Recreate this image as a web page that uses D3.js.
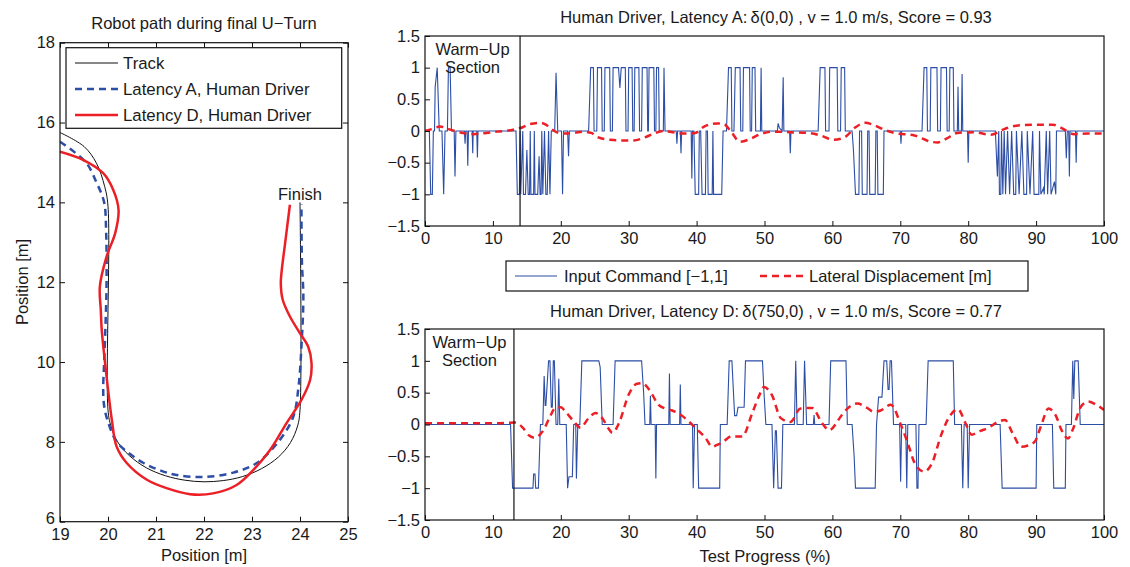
<!DOCTYPE html>
<html>
<head>
<meta charset="utf-8">
<script src="https://cdn.jsdelivr.net/npm/d3@7"></script>
<style>
  body { margin: 0; background: #fff; }
  svg { display: block; font-family: "Liberation Sans", Arial, Helvetica, sans-serif; }
  .tick text { font-size: 16.5px; fill: #1a1a1a; }
</style>
</head>
<body>
<svg id="chart" width="1130" height="567"></svg>
<script>
// ---- left panel: robot path (x, y in m) ----
var trackPath = [[19.0,15.75],[19.5,15.4],[19.76,14.98],[19.93,14.4],[20.0,13.9],[20.0,8.8],[20.06,8.4],[20.2,8.0],[20.45,7.65],[20.8,7.35],[21.2,7.15],[21.6,7.04],[22.0,7.0],[22.4,7.03],[22.8,7.13],[23.2,7.33],[23.55,7.62],[23.8,7.98],[23.95,8.4],[24.0,8.8],[24.0,14.0]];
var pathLatA = [[19.0,15.52],[19.54,15.0],[19.76,14.5],[19.92,14.0],[19.96,13.3],[19.97,12.0],[19.95,11.0],[19.92,10.0],[19.9,9.3],[19.92,8.9],[20.0,8.5],[20.18,8.0],[20.4,7.75],[20.74,7.47],[21.1,7.28],[21.43,7.17],[21.99,7.12],[22.61,7.23],[23.1,7.47],[23.58,8.05],[23.86,8.63],[23.97,9.39],[24.03,10.39],[24.07,11.64],[24.04,12.5],[24.03,13.95]];
var pathLatD = [[19.0,15.27],[19.49,15.06],[19.9,14.73],[20.11,14.31],[20.22,13.81],[20.15,13.23],[19.97,12.64],[19.83,11.89],[19.85,11.3],[19.87,10.8],[19.97,9.64],[20.08,8.55],[20.18,7.88],[20.39,7.47],[20.81,7.05],[21.22,6.84],[21.71,6.69],[22.19,6.71],[22.68,6.92],[23.03,7.3],[23.38,7.8],[23.72,8.47],[24.03,9.05],[24.21,9.55],[24.24,9.97],[24.17,10.39],[24.0,10.72],[23.79,11.14],[23.64,11.56],[23.6,11.97],[23.62,12.3],[23.69,12.98],[23.79,13.94]];
var pathLabels = ["Track", "Latency A, Human Driver", "Latency D, Human Driver"];
var posXTicks = [19, 20, 21, 22, 23, 24, 25];
var posYTicks = [6, 8, 10, 12, 14, 16, 18];

// ---- right panels: test progress (%) vs command / displacement ----
var inputA = [[0,0],[0.64,0],[0.84,-1],[1.08,-1],[1.23,0],[1.4,0],[1.5,0.7],[1.8,1],[2.1,0],[2.5,0],[2.75,-1],[2.95,0],[3.3,0],[3.45,1],[3.7,1],[3.9,0],[4.3,0],[4.42,-0.72],[4.55,0],
  [5.8,0],[5.9,-0.2],[6.0,0],[6.2,0],[6.3,-0.55],[6.4,0],[6.95,0],[7.03,-0.35],[7.1,0],[7.62,0],[7.72,-0.42],[7.8,0],
  [13.4,0],[13.6,-1],[13.9,-1],[14.0,0],[14.1,-1],[14.4,0],[14.5,-1],[14.8,-1],[15.0,-0.3],[15.2,-1],[15.4,-1],[15.5,0],[15.6,-1],[16.0,-1],[16.1,0],[16.2,-1],[16.6,-1],[16.8,-0.4],[16.95,-1],[17.1,-1],[17.2,0],[17.35,-1],[17.6,0],[17.8,-1],[18.0,-1],[18.2,0],[18.4,-1],[18.6,0],
  [19.1,0],[19.3,0.92],[19.55,0],[20.1,0],[20.26,-1],[20.4,0],[21.0,0],[21.14,-0.4],[21.25,0],
  [24.1,0],[24.4,1],[24.8,1],[24.9,0],[25.3,0],[25.4,1],[26.0,1],[26.1,0],[26.4,0],[26.5,1],[27.2,1],[27.3,0],[27.6,0],[27.7,1],[28.5,1],[28.7,0.68],[28.9,1],[29.5,1],[29.6,0],[29.9,0],[30.0,1],[30.5,1],[30.6,0],[30.8,0],[30.9,1],[31.5,1],[31.6,0],[31.9,0],[32.0,1],[32.7,1],[32.8,0],[32.9,0],[33.0,1],[33.7,1],[33.8,0],[34.0,0],[34.1,1],[34.4,1],[34.5,0],[35.1,0],[35.2,1],[35.35,0],
  [37.0,0],[37.1,-0.2],[37.2,0],[37.6,0],[37.7,-0.35],[37.8,0],
  [39.2,0],[39.3,-0.75],[39.4,0],[39.6,0],[39.8,-1],[40.3,-1],[40.4,0],[40.6,0],[40.8,-1],[41.3,-1],[41.4,0],[41.6,0],[41.7,-1],[42.3,-1],[42.4,0],[42.5,-1],[43.7,-1],[43.9,0],
  [44.4,0],[44.7,1],[45.1,1],[45.2,0],[45.5,0],[45.7,1],[46.4,1],[46.5,0],[46.8,0],[46.9,1],[47.8,1],[47.9,0],[48.1,0],[48.2,1],[48.6,1],[48.7,0],[49.4,0],[49.5,1],[49.6,0],
  [51.9,0],[52.0,0.12],[52.2,0.05],[52.6,0],[52.75,0.85],[52.85,0],[53.7,0],[53.8,-0.35],[53.9,0],
  [57.9,0],[58.2,1],[58.9,1],[59.0,0],[59.5,0],[59.6,1],[60.7,1],[60.8,0],[61.2,0],[61.3,1],[61.8,1],[61.9,0],
  [62.9,0],[63.1,-0.3],[63.4,-1],[63.9,-1],[64.0,0],[64.3,0],[64.4,-1],[65.1,-1],[65.2,0],[65.4,0],[65.5,-1],[66.3,-1],[66.4,0],[66.6,0],[66.7,-1],[67.5,-1],[67.6,0],
  [70.0,0],[70.1,-0.2],[70.2,0],
  [73.2,0],[73.5,1],[73.9,1],[74.0,0],[74.4,0],[74.5,1],[75.4,1],[75.5,0],[75.9,0],[76.0,1],[76.8,1],[76.9,0],[77.2,0],[77.3,1],[77.8,1],[77.9,0],[78.4,0],[78.5,0.7],[78.6,0],[79.0,0],[79.1,0.9],[79.2,0],
  [79.9,0],[80.0,-0.5],[80.1,0],
  [84.0,0],[84.3,-0.72],[84.5,0],[84.6,-1],[84.8,-1],[84.9,0],[85.1,-1],[85.3,0],[85.5,-1],[85.8,0],[86.1,-1],[86.4,0],[86.7,-1],[87.0,-1],[87.1,0],[87.5,-1],[87.9,0],[88.2,-1],[88.6,-1],[88.7,0],[89.1,-1],[89.5,0],[89.7,-1],[90.4,-1],[90.5,0],[90.7,-1],[91.1,-0.9],[91.2,-1],[91.5,0],[91.7,-1],[92.0,0],[92.2,-1],[92.7,-0.8],[92.9,-1],[93.0,0],
  [94.3,0],[94.45,-0.43],[94.6,0],[94.8,0],[94.9,-0.72],[95.0,0],[95.8,0],[95.9,-0.5],[96.0,0],[100,0]];

var lateralA = [[0,0],[1,0.03],[2.2,0.07],[3.5,0.03],[4.7,-0.01],[6,-0.04],[7.1,-0.05],[9,-0.03],[10.6,-0.01],[13,0.02],[14.4,0.06],[15.5,0.11],[17.0,0.13],[17.8,0.1],[18.6,0.03],[20.2,-0.04],[22,-0.03],[23.3,-0.01],[24.5,-0.03],[25.3,-0.09],[27.3,-0.14],[29,-0.15],[30.7,-0.15],[32.4,-0.1],[33.5,-0.05],[35.2,0],[36.5,-0.02],[38.1,-0.04],[39.8,-0.03],[41.1,0.07],[43.0,0.12],[44.0,0.11],[45.0,0.0],[46.4,-0.17],[48,-0.12],[49.4,-0.05],[51.4,-0.01],[53.8,-0.02],[56.3,-0.03],[58.2,-0.07],[60.2,-0.14],[61.8,-0.1],[63.3,0.05],[64.8,0.13],[66.2,0.09],[67.6,0.02],[69.1,-0.03],[72.1,-0.07],[74.5,-0.17],[75.5,-0.18],[76.8,-0.12],[78.4,-0.03],[80.9,-0.02],[83.3,-0.06],[85.3,0.03],[86.8,0.08],[89.7,0.1],[92.5,0.1],[93.7,0.05],[95.6,-0.05],[97.6,-0.04],[100,-0.04]];

var inputD = [[0,0],[12.6,0],[12.9,-1],[15.9,-1],[16.0,-0.78],[16.2,-0.78],[16.3,-1],[16.7,-1],[17.0,0],[17.35,0],[17.55,0.76],[17.7,0.3],[17.8,0.3],[18.2,1],[18.4,1],[18.6,0.27],[18.75,0.27],[18.9,1],[19.05,1],[19.3,0],[19.55,0],[19.7,0.72],[19.85,0],[20.8,0],[20.9,-0.5],[21.0,-1],[21.2,-0.82],[21.7,-0.82],[21.9,0],[22.2,0],[22.3,-0.85],[22.5,0],[22.8,0],[23.1,1],[25.6,1],[25.8,0.9],[26.1,0],[27.7,0],[28.0,1],[31.9,1],[32.2,0.5],[32.4,0],
  [33.1,0],[33.2,0.45],[33.3,0],[33.9,0],[34.0,-0.85],[34.1,0],[35.9,0],[36.0,0.8],[36.1,0],[37.5,0],[37.6,0.63],[37.7,0],[39.4,0],[39.5,-1],[39.7,0],[40.1,0],[40.3,-1],[43.4,-1],[43.5,0],
  [44.5,0],[44.8,1],[45.2,1],[45.6,0.14],[45.9,0.14],[46.1,0.27],[47.0,0.27],[47.2,1],[49.7,1],[49.9,0.55],[50.2,0],[51.1,0],[51.35,-1],[51.6,-0.1],[51.75,-0.1],[52.0,-1],[52.5,-1],[52.7,0],
  [54.4,0],[54.6,1],[54.8,0],[55.7,0],[55.9,1],[56.2,0],[57.2,0],[57.3,0.15],[57.4,0],[59.5,0],[59.75,1],[62.0,1],[62.2,0],[62.9,0],[63.2,-0.5],[63.4,-1],[66.3,-1],[66.5,0],[66.8,0.43],[67.3,0.43],[67.6,1],[68.0,1],[68.2,0.55],[68.35,0.55],[68.5,1],[68.7,1],[69.0,0],
  [69.9,0],[70.05,-0.9],[70.2,0],[70.8,0],[70.95,-1],[71.1,0],[72.3,0],[72.45,-1],[72.6,-1],[72.75,0],[73.8,0],[74.1,1],[77.8,1],[78.0,0],[79.0,0],[79.2,-1],[79.4,0],[79.85,0],[80.0,-1],[80.2,0],
  [84.7,0],[85.0,-1],[90.0,-1],[90.1,0],[92.4,0],[92.6,-1],[94.3,-1],[94.4,0],[95.2,0],[95.4,1],[95.55,0.4],[95.7,1],[96.2,1],[96.5,0],[100,0]];

var lateralD = [[0,0.02],[5,0.02],[10,0.02],[13.3,0.03],[14.4,-0.05],[15.3,-0.17],[16.1,-0.21],[17.0,-0.15],[17.5,-0.08],[18.4,0.12],[19.2,0.26],[20.0,0.27],[20.7,0.2],[21.9,0.05],[22.9,-0.05],[24.1,0.1],[25.1,0.18],[26.1,0.1],[27.0,-0.06],[27.6,-0.13],[28.6,0.03],[30.0,0.47],[31.2,0.64],[32.0,0.65],[33.0,0.55],[34.4,0.31],[35.4,0.25],[36.4,0.22],[37.8,0.14],[39.8,-0.05],[41.3,-0.21],[42.3,-0.35],[43.0,-0.32],[43.8,-0.28],[45.2,-0.18],[46.0,-0.19],[46.7,-0.19],[48.2,0.18],[49.2,0.45],[49.9,0.59],[51.1,0.46],[52.4,0.1],[53.8,0.04],[55.3,0.25],[57.0,0.26],[58.5,0.02],[59.5,-0.09],[61.4,0.15],[62.2,0.25],[63.7,0.33],[65.1,0.26],[66.1,0.2],[67.1,0.22],[68.6,0.31],[70.1,-0.01],[71.5,-0.42],[72.0,-0.58],[73.5,-0.74],[74.7,-0.6],[76.0,-0.17],[77.4,0.15],[78.5,0.24],[79.6,0.02],[80.5,-0.16],[81.8,-0.1],[83.0,-0.05],[84.2,0.03],[85.4,0.07],[86.6,-0.15],[87.8,-0.35],[88.8,-0.33],[89.8,-0.27],[90.8,0.0],[91.8,0.25],[92.9,0.14],[93.8,-0.1],[94.7,-0.22],[95.4,-0.08],[96.6,0.28],[97.7,0.36],[99,0.3],[100,0.23]];

var progressTicks = [0, 10, 20, 30, 40, 50, 60, 70, 80, 90, 100];
var valueTicks = [-1.5, -1, -0.5, 0, 0.5, 1, 1.5];
var warmUpEndA = 14.0, warmUpEndD = 13.1;
var titleA = "Human Driver, Latency A:\u2009\u03b4(0,0) , v = 1.0 m/s, Score = 0.93";
var titleD = "Human Driver, Latency D:\u2009\u03b4(750,0) , v = 1.0 m/s, Score = 0.77";
var seriesLabels = ["Input Command [\u22121,1]", "Lateral Displacement [m]"];

var BLUE = "#2d4ea6", RED = "#ec1f26", INK = "#1a1a1a";
var FS = 16.5;
var fmt = d3.format("~g");
var svg = d3.select("#chart");

function frame(g, x, y, id) {
	g.append("clipPath").attr("id", id)
		.append("rect")
		.attr("x", x.range()[0]).attr("y", y.range()[1])
		.attr("width", x.range()[1] - x.range()[0])
		.attr("height", y.range()[0] - y.range()[1]);
}

function box(g, x, y) {
	g.append("rect")
		.attr("x", x.range()[0]).attr("y", y.range()[1])
		.attr("width", x.range()[1] - x.range()[0])
		.attr("height", y.range()[0] - y.range()[1])
		.attr("fill", "none").attr("stroke", "#111").attr("stroke-width", 1.2);
}

function axes(g, x, y, xt, yt, mirror, xpad) {
	var ax = g.append("g").attr("transform", "translate(0," + y.range()[0] + ")")
		.call(d3.axisBottom(x).tickValues(xt).tickFormat(fmt).tickSizeInner(-5).tickSizeOuter(0).tickPadding(xpad));
	var ay = g.append("g").attr("transform", "translate(" + x.range()[0] + ",0)")
		.call(d3.axisLeft(y).tickValues(yt).tickFormat(fmt).tickSizeInner(-5).tickSizeOuter(0).tickPadding(5));
	[ax, ay].forEach(function (a) {
		a.select(".domain").remove();
		a.selectAll(".tick line").attr("stroke", "#111");
	});
	if (mirror) {
		var at = g.append("g").attr("transform", "translate(0," + y.range()[1] + ")")
			.call(d3.axisTop(x).tickValues(xt).tickSizeInner(-5).tickSizeOuter(0).tickFormat(""));
		var ar = g.append("g").attr("transform", "translate(" + x.range()[1] + ",0)")
			.call(d3.axisRight(y).tickValues(yt).tickSizeInner(-5).tickSizeOuter(0).tickFormat(""));
		[at, ar].forEach(function (a) {
			a.select(".domain").remove();
			a.selectAll(".tick line").attr("stroke", "#111");
		});
	}
	return ay;
}

// ---------- left panel ----------
var xL = d3.scaleLinear().domain([19, 25]).range([60, 348]);
var yL = d3.scaleLinear().domain([6, 18]).range([521.7, 42.7]);
var gL = svg.append("g");
frame(gL, xL, yL, "clipL");

var pathLine = d3.line().x(d => xL(d[0])).y(d => yL(d[1])).curve(d3.curveCatmullRom.alpha(0.5));
var plotL = gL.append("g").attr("clip-path", "url(#clipL)");
plotL.append("path").datum(trackPath).attr("d", pathLine)
	.attr("fill", "none").attr("stroke", "#111").attr("stroke-width", 1);
plotL.append("path").datum(pathLatA).attr("d", pathLine)
	.attr("fill", "none").attr("stroke", BLUE).attr("stroke-width", 2.5).attr("stroke-dasharray", "7,5");
plotL.append("path").datum(pathLatD).attr("d", pathLine)
	.attr("fill", "none").attr("stroke", RED).attr("stroke-width", 2.5);

gL.append("text").attr("x", xL(24)).attr("y", yL(14.06))
	.attr("text-anchor", "middle").attr("font-size", FS).attr("fill", INK).text("Finish");

var ayL = axes(gL, xL, yL, posXTicks, posYTicks, true, 7);
// lowest y label sits right on the corner; nudge it up a touch so it clears "19"
ayL.selectAll(".tick text").filter(d => d === 6).attr("dy", "0.12em");
box(gL, xL, yL);

// legend
var legL = gL.append("g");
legL.append("rect").attr("x", 66).attr("y", 47.7).attr("width", 275.7).attr("height", 80.6)
	.attr("fill", "#fff").attr("stroke", "#111").attr("stroke-width", 1.2);
var legStyles = [
	{ c: "#111", w: 1, d: null },
	{ c: BLUE, w: 2.5, d: "7,5" },
	{ c: RED, w: 2.5, d: null }
];
pathLabels.forEach(function (lab, i) {
	var yy = 63 + i * 26;
	legL.append("line").attr("x1", 75).attr("x2", 118).attr("y1", yy).attr("y2", yy)
		.attr("stroke", legStyles[i].c).attr("stroke-width", legStyles[i].w)
		.attr("stroke-dasharray", legStyles[i].d);
	legL.append("text").attr("x", 123).attr("y", yy + 6).attr("font-size", 16.8).attr("fill", INK).text(lab);
});

gL.append("text").attr("x", 204).attr("y", 29).attr("text-anchor", "middle")
	.attr("font-size", FS).attr("fill", INK).text("Robot path during final U\u2212Turn");
gL.append("text").attr("x", 204).attr("y", 561).attr("text-anchor", "middle")
	.attr("font-size", FS).attr("fill", INK).text("Position [m]");
gL.append("text").attr("transform", "translate(28,282) rotate(-90)").attr("text-anchor", "middle")
	.attr("font-size", FS).attr("fill", INK).text("Position [m]");

// ---------- right panels ----------
function series(top, bottom, input, lateral, warm, title, titleY, id) {
	var x = d3.scaleLinear().domain([0, 100]).range([425, 1104]);
	var y = d3.scaleLinear().domain([-1.5, 1.5]).range([bottom, top]);
	var g = svg.append("g");
	frame(g, x, y, id);
	var plot = g.append("g").attr("clip-path", "url(#" + id + ")");

	plot.append("path").datum(input)
		.attr("d", d3.line().x(d => x(d[0])).y(d => y(d[1])))
		.attr("fill", "none").attr("stroke", BLUE).attr("stroke-width", 1.1);
	plot.append("path").datum(lateral)
		.attr("d", d3.line().x(d => x(d[0])).y(d => y(d[1])).curve(d3.curveMonotoneX))
		.attr("fill", "none").attr("stroke", RED).attr("stroke-width", 2.5).attr("stroke-dasharray", "7,5");

	g.append("line").attr("x1", x(warm)).attr("x2", x(warm)).attr("y1", y(-1.5)).attr("y2", y(1.5))
		.attr("stroke", "#111").attr("stroke-width", 1.2);
	g.append("text").attr("x", x(warm / 2)).attr("y", y(1.5) + 19).attr("text-anchor", "middle")
		.attr("font-size", FS).attr("fill", INK).text("Warm\u2212Up");
	g.append("text").attr("x", x(warm / 2)).attr("y", y(1.5) + 37).attr("text-anchor", "middle")
		.attr("font-size", FS).attr("fill", INK).text("Section");

	axes(g, x, y, progressTicks, valueTicks, false, 6);
	box(g, x, y);

	g.append("text").attr("x", 776).attr("y", titleY).attr("text-anchor", "middle")
		.attr("font-size", FS).attr("fill", INK).text(title);
	return x;
}

series(36, 226, inputA, lateralA, warmUpEndA, titleA, 23, "clipA");
series(329, 520, inputD, lateralD, warmUpEndD, titleD, 317, "clipD");

svg.append("text").attr("x", 765).attr("y", 562).attr("text-anchor", "middle")
	.attr("font-size", FS).attr("fill", INK).text("Test Progress (%)");

// shared legend between the panels
var legR = svg.append("g");
legR.append("rect").attr("x", 506).attr("y", 261).attr("width", 522).attr("height", 30)
	.attr("fill", "#fff").attr("stroke", "#111").attr("stroke-width", 1.2);
legR.append("line").attr("x1", 515).attr("x2", 557).attr("y1", 276).attr("y2", 276)
	.attr("stroke", BLUE).attr("stroke-width", 1.1);
legR.append("text").attr("x", 564).attr("y", 282).attr("font-size", FS).attr("fill", INK).text(seriesLabels[0]);
legR.append("line").attr("x1", 760).attr("x2", 805).attr("y1", 276).attr("y2", 276)
	.attr("stroke", RED).attr("stroke-width", 2.5).attr("stroke-dasharray", "7,5");
legR.append("text").attr("x", 809).attr("y", 282).attr("font-size", FS).attr("fill", INK).text(seriesLabels[1]);
</script>
</body>
</html>
